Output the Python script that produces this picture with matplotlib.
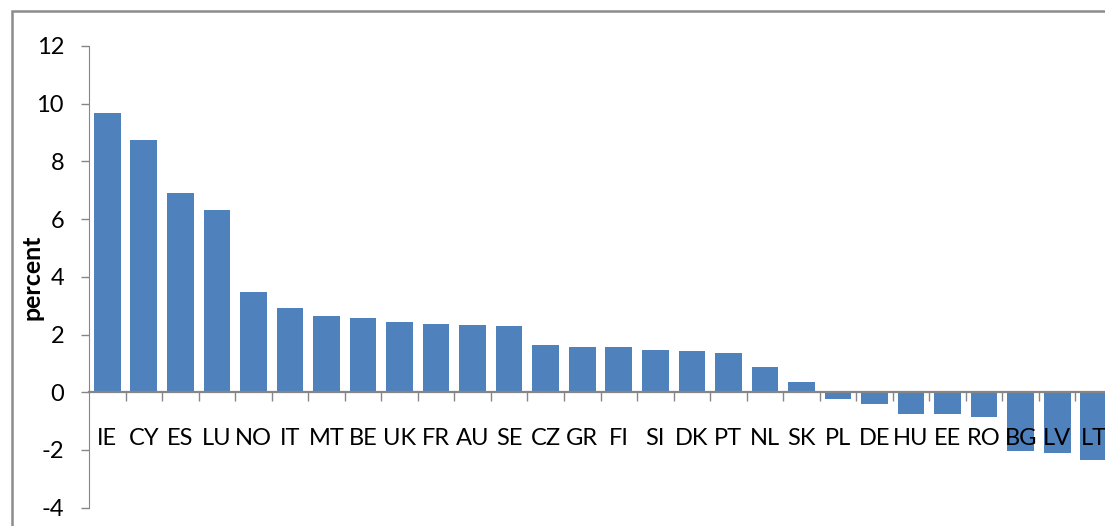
import matplotlib
matplotlib.use("Agg")
import matplotlib.pyplot as plt
from matplotlib.patches import Rectangle
import numpy as np

countries = ["IE", "CY", "ES", "LU", "NO", "IT", "MT", "BE", "UK", "FR", "AU", "SE",
             "CZ", "GR", "FI", "SI", "DK", "PT", "NL", "SK", "PL", "DE", "HU", "EE",
             "RO", "BG", "LV", "LT"]
values = [9.69, 8.75, 6.92, 6.30, 3.47, 2.92, 2.65, 2.57, 2.43, 2.36, 2.32, 2.28,
          1.63, 1.56, 1.56, 1.45, 1.42, 1.35, 0.87, 0.35, -0.22, -0.40, -0.75, -0.75,
          -0.85, -2.05, -2.12, -2.33]
yticks = [-4, -2, 0, 2, 4, 6, 8, 10, 12]

plt.rcParams['font.family'] = ['Lato', 'DejaVu Sans']
W, H = 1105, 526
fig = plt.figure(figsize=(W / 100, H / 100), dpi=100)

left, right = 89, 1112
top, bottom = 46, 507.7
ax = fig.add_axes([left / W, (H - bottom) / H, (right - left) / W, (bottom - top) / H])

x = np.arange(len(countries))
ax.bar(x, values, width=0.73, color="#4F81BD", zorder=1)
ax.set_axisbelow(False)

ax.set_xlim(-0.5, len(countries) - 0.5)
ax.set_ylim(-4, 12)
ax.set_yticks(yticks)
ax.set_yticklabels([str(t) for t in yticks], fontsize=17)
ax.tick_params(axis='y', length=6, width=1, color="#868686", pad=12)

ax.spines['top'].set_visible(False)
ax.spines['right'].set_visible(False)
ax.spines['left'].set_color("#868686")
ax.spines['bottom'].set_position(('data', 0))
ax.spines['bottom'].set_color("#868686")
ax.spines['bottom'].set_linewidth(1.6)

ax.set_xticks(x)
ax.set_xticklabels(countries, fontsize=17)
ax.tick_params(axis='x', length=0, pad=26)
ax.set_xticks(np.arange(len(countries)) + 0.5, minor=True)
ax.tick_params(axis='x', which='minor', length=6.5, width=1, color="#868686")

ax.set_ylabel("percent", fontsize=18, fontweight='bold')
ax.yaxis.set_label_coords(-0.044, 0.5)

fig.patches.append(Rectangle((12 / W, -0.2), 1.2, 1.2 - 11 / H, transform=fig.transFigure,
                             fill=False, edgecolor="#8c8c8c", linewidth=1.8))

fig.savefig("out.png", dpi=100)
